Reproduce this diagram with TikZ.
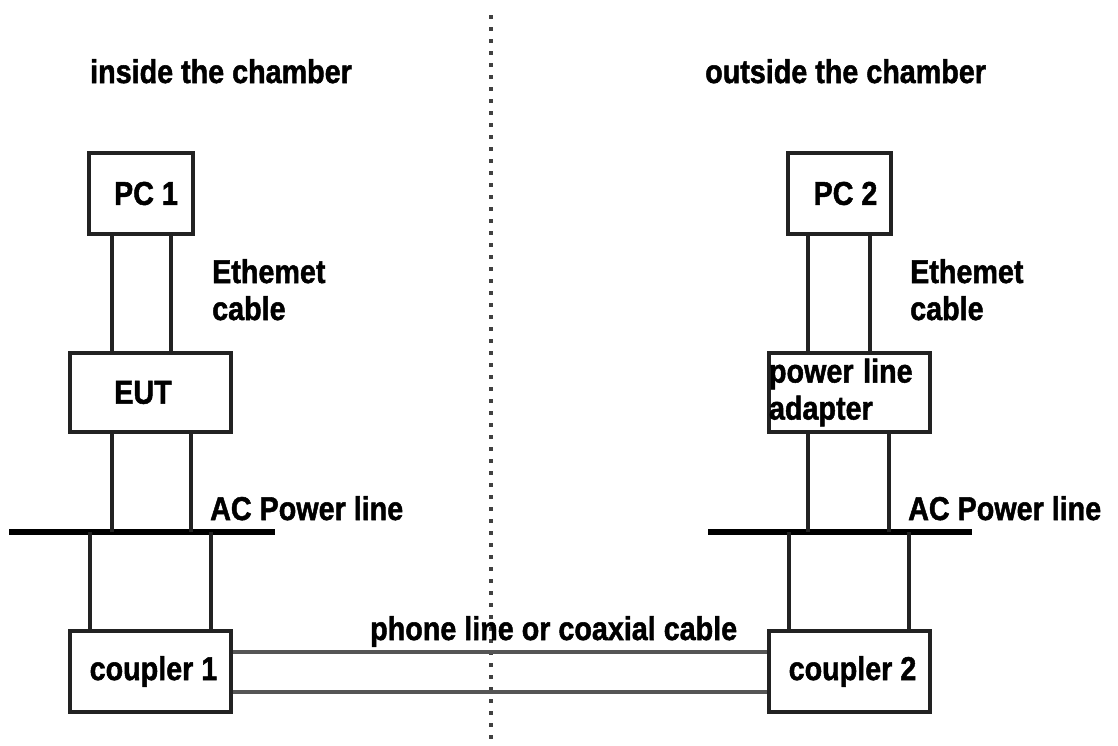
\documentclass[tikz,border=0pt]{standalone}
\usepackage{fontspec}
\setmainfont{Liberation Sans}[BoldFeatures={FakeBold=1.6}]
\usepackage{graphicx}
\newcommand{\sq}[1]{\scalebox{0.87}[1]{#1}}
\newcommand{\lblfont}{\fontsize{33}{37}\selectfont\bfseries}
\definecolor{boxgray}{HTML}{222222}
\definecolor{phonegray}{HTML}{555555}
\definecolor{dotgray}{HTML}{404040}
\begin{document}
\begin{tikzpicture}[x=1pt,y=-1pt,
  box/.style={draw=boxgray, line width=3.2pt, rectangle, inner sep=0pt, font=\lblfont},
  wire/.style={draw=boxgray, line width=3.2pt},
  mains/.style={draw=black, line width=6.5pt},
  phone/.style={draw=phonegray, line width=3.2pt},
  sepline/.style={draw=dotgray, line width=3.2pt, dash pattern=on 3.5pt off 8.5pt},
  lbl/.style={inner sep=0pt, font=\lblfont, anchor=base west}]
\useasboundingbox (0,0) rectangle (1118,745);
\fill[white] (0,0) rectangle (1118,745);

% separator
\coordinate (sepTop) at (491,15);
\coordinate (sepBot) at (491,742);
\draw[sepline] (sepTop) -- (sepBot);

% headers
\node[lbl] (hdrL) at (90,83) {\sq{inside the chamber}};
\node[lbl] (hdrR) at (705,83) {\sq{outside the chamber}};

% boxes
\node[box, minimum width=104pt, minimum height=81pt] (PC1) at (141,193.5) {\hspace*{10pt}\sq{PC 1}};
\node[box, minimum width=161pt, minimum height=79pt] (EUT) at (150.5,392.5) {\hspace*{-15pt}\sq{EUT}};
\node[box, minimum width=161pt, minimum height=81pt] (C1) at (150.5,671.5) {\hspace*{6pt}\sq{coupler 1}};
\node[box, minimum width=103pt, minimum height=81pt] (PC2) at (839.5,193.5) {\hspace*{12pt}\sq{PC 2}};
\node[box, minimum width=161pt, minimum height=79pt, text width=161pt, align=left] (PLA) at (849.5,392.5) {\sq{power line}\\\sq{adapter}};
\node[box, minimum width=161pt, minimum height=81pt] (C2) at (849.5,671.5) {\hspace*{6pt}\sq{coupler 2}};

% AC power lines
\coordinate (ACLw) at (9,532);
\coordinate (ACLe) at (275,532);
\coordinate (ACRw) at (708,532);
\coordinate (ACRe) at (972,532);
\draw[mains] (ACLw) -- (ACLe);
\draw[mains] (ACRw) -- (ACRe);

% columns
\coordinate (xa) at (112,0);
\coordinate (xb) at (171,0);
\coordinate (xc) at (191,0);
\coordinate (xd) at (90,0);
\coordinate (xe) at (211,0);
\coordinate (xf) at (808,0);
\coordinate (xg) at (870,0);
\coordinate (xh) at (889,0);
\coordinate (xi) at (789,0);
\coordinate (xj) at (909,0);

% left chain
\draw[wire] (PC1.south -| xa) -- (EUT.north -| xa);
\draw[wire] (PC1.south -| xb) -- (EUT.north -| xb);
\draw[wire] (EUT.south -| xa) -- (ACLw -| xa);
\draw[wire] (EUT.south -| xc) -- (ACLw -| xc);
\draw[wire] (ACLw -| xd) -- (C1.north -| xd);
\draw[wire] (ACLw -| xe) -- (C1.north -| xe);

% right chain
\draw[wire] (PC2.south -| xf) -- (PLA.north -| xf);
\draw[wire] (PC2.south -| xg) -- (PLA.north -| xg);
\draw[wire] (PLA.south -| xf) -- (ACRw -| xf);
\draw[wire] (PLA.south -| xh) -- (ACRw -| xh);
\draw[wire] (ACRw -| xi) -- (C2.north -| xi);
\draw[wire] (ACRw -| xj) -- (C2.north -| xj);

% phone / coax lines
\coordinate (ph1) at (0,652);
\coordinate (ph2) at (0,692);
\draw[phone] (C1.east |- ph1) -- (C2.west |- ph1);
\draw[phone] (C1.east |- ph2) -- (C2.west |- ph2);

% labels (base anchor of a two-line node is the last line's baseline)
\node[lbl, align=left] (ethL) at (212,320) {\sq{Ethemet}\\\sq{cable}};
\node[lbl, align=left] (ethR) at (910,320) {\sq{Ethemet}\\\sq{cable}};
\node[lbl] (acL) at (210,520) {\sq{AC Power line}};
\node[lbl] (acR) at (908,520) {\sq{AC Power line}};
\node[lbl] (phoneLbl) at (370,640) {\sq{phone line or coaxial cable}};
\end{tikzpicture}
\end{document}
